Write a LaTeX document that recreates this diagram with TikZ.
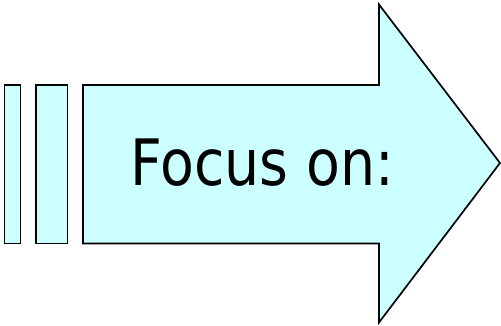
\documentclass[tikz,border=0pt]{standalone}
\usepackage{fontspec}
\newfontfamily\labelfont{DejaVu Sans}
\definecolor{arrowfill}{HTML}{CCFFFF}
\begin{document}
\begin{tikzpicture}[x=1pt,y=-1pt,
  part/.style={draw=black,fill=arrowfill,line width=1.7pt,line join=miter},
  lbl/.style={font=\labelfont\fontsize{64}{70}\selectfont,inner sep=0pt,anchor=base west,xscale=0.865}]
\useasboundingbox (0,0) rectangle (501,325);
\path[part] (4.5,85) rectangle (20.5,243.5);
\path[part] (36,85) rectangle (67.5,243.5);
\path[part] (83,85) -- (379,85) -- (379,4.5) -- (500,163) -- (379,322.5) -- (379,243.5) -- (83,243.5) -- cycle;
\node[lbl] (t) at (130.5,185) {Focus on:};
\end{tikzpicture}
\end{document}
